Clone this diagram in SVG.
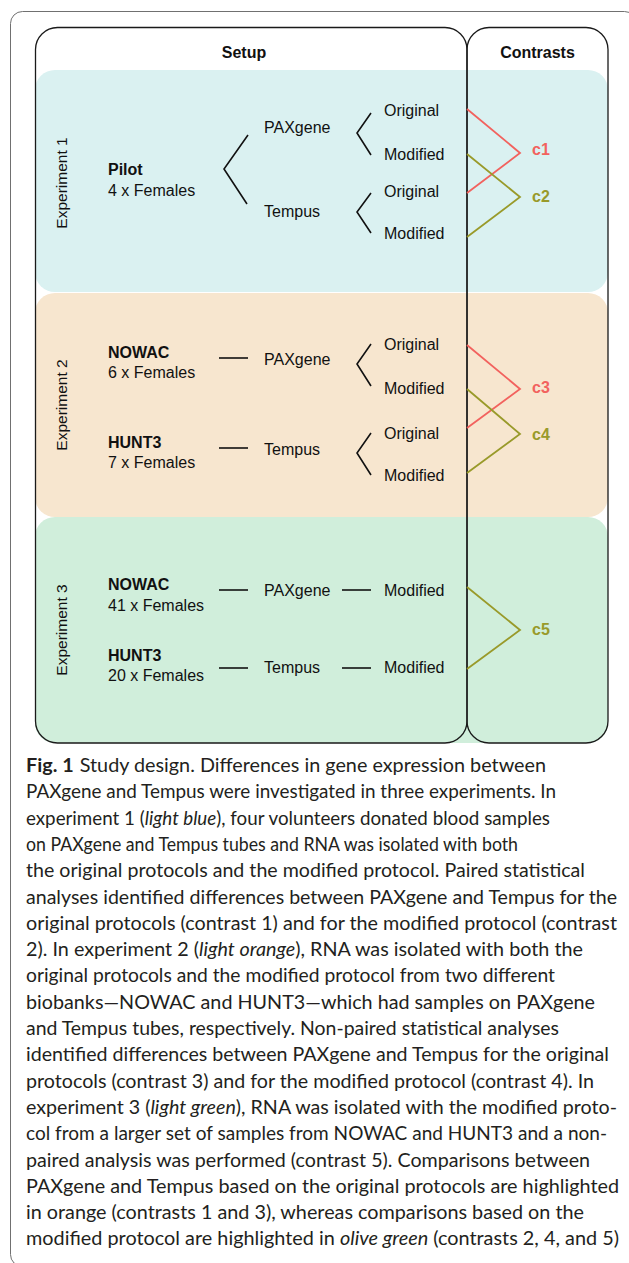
<svg xmlns="http://www.w3.org/2000/svg" width="629" height="1263" viewBox="0 0 629 1263">
<style>
.lbl{font-family:"Liberation Sans",Arial,sans-serif;font-size:16px;fill:#111}
.b{font-weight:bold}
.exp{font-family:"Liberation Sans",Arial,sans-serif;font-size:15.5px;fill:#111;text-anchor:middle}
.hdr{font-family:"Liberation Sans",Arial,sans-serif;font-size:16px;font-weight:bold;fill:#111;text-anchor:middle}
.orig{stroke:#f2625e;stroke-width:1.8;fill:none}
.mod{stroke:#999a2a;stroke-width:1.8;fill:none}
.ct{font-family:"Liberation Sans",Arial,sans-serif;font-size:16px;font-weight:bold}
.ctr{fill:#f2625e}
.cto{fill:#999a2a}
.br{stroke:#111;stroke-width:1.6;fill:none}
.box{fill:none;stroke:#1a1a1a;stroke-width:1.3}
.cap{font-family:Lato,"Open Sans",sans-serif;font-size:19.5px;fill:#231f20}
</style>
<rect x="0" y="0" width="629" height="1263" fill="#fff"/>
<rect id="frame" x="10.5" y="11.5" width="626" height="1255" rx="12" fill="none" stroke="#707070" stroke-width="1"/>

<g id="exp1">
<rect x="35" y="70" width="573" height="222" rx="20" fill="#daf1f1"/>
<text class="exp" transform="translate(67,183) rotate(-90)">Experiment 1</text>
</g>
<g id="exp2">
<rect x="35" y="293" width="573" height="224" rx="20" fill="#f7e6cf"/>
<text class="exp" transform="translate(67,405) rotate(-90)">Experiment 2</text>
</g>
<g id="exp3">
<rect x="35" y="517" width="573" height="226" rx="20" fill="#d0eedb"/>
<text class="exp" transform="translate(67,630) rotate(-90)">Experiment 3</text>
</g>

<g id="setup">
<rect class="box" x="35.5" y="27.5" width="431.5" height="715.5" rx="22"/>
<text class="hdr" x="244" y="58">Setup</text>
</g>
<g id="contrasts">
<rect class="box" x="467" y="27.5" width="141" height="715.5" rx="22"/>
<text class="hdr" x="537.5" y="58">Contrasts</text>
</g>

<g id="nodes-exp1">
<g id="pilot"><text class="lbl b" x="108" y="175">Pilot</text><text class="lbl" x="108" y="196">4 x Females</text></g>
<g id="e1-paxgene"><text class="lbl" x="264" y="133">PAXgene</text></g>
<g id="e1-tempus"><text class="lbl" x="264" y="217">Tempus</text></g>
<g id="e1-pax-orig"><text class="lbl" x="384" y="116">Original</text></g>
<g id="e1-pax-mod"><text class="lbl" x="384" y="160">Modified</text></g>
<g id="e1-tem-orig"><text class="lbl" x="384" y="197">Original</text></g>
<g id="e1-tem-mod"><text class="lbl" x="384" y="239">Modified</text></g>
<g id="c1"><text class="ct ctr" x="532" y="155">c1</text></g>
<g id="c2"><text class="ct cto" x="532" y="202">c2</text></g>
</g>

<g id="nodes-exp2">
<g id="e2-nowac"><text class="lbl b" x="108" y="358">NOWAC</text><text class="lbl" x="108" y="378">6 x Females</text></g>
<g id="e2-hunt3"><text class="lbl b" x="108" y="448">HUNT3</text><text class="lbl" x="108" y="468">7 x Females</text></g>
<g id="e2-paxgene"><text class="lbl" x="264" y="365">PAXgene</text></g>
<g id="e2-tempus"><text class="lbl" x="264" y="455">Tempus</text></g>
<g id="e2-pax-orig"><text class="lbl" x="384" y="350">Original</text></g>
<g id="e2-pax-mod"><text class="lbl" x="384" y="394">Modified</text></g>
<g id="e2-tem-orig"><text class="lbl" x="384" y="439">Original</text></g>
<g id="e2-tem-mod"><text class="lbl" x="384" y="481">Modified</text></g>
<g id="c3"><text class="ct ctr" x="532" y="393">c3</text></g>
<g id="c4"><text class="ct cto" x="532" y="440">c4</text></g>
</g>

<g id="nodes-exp3">
<g id="e3-nowac"><text class="lbl b" x="108" y="590">NOWAC</text><text class="lbl" x="108" y="611">41 x Females</text></g>
<g id="e3-hunt3"><text class="lbl b" x="108" y="661">HUNT3</text><text class="lbl" x="108" y="681">20 x Females</text></g>
<g id="e3-paxgene"><text class="lbl" x="264" y="596">PAXgene</text></g>
<g id="e3-tempus"><text class="lbl" x="264" y="673">Tempus</text></g>
<g id="e3-pax-mod"><text class="lbl" x="384" y="596">Modified</text></g>
<g id="e3-tem-mod"><text class="lbl" x="384" y="673">Modified</text></g>
<g id="c5"><text class="ct cto" x="532" y="635">c5</text></g>
</g>

<g id="connectors">
<polyline class="br" points="248,135 224,169 247,204"/>
<polyline class="br" points="371,113 357,133 371,155"/>
<polyline class="br" points="371,193 357,212 371,233"/>
<polyline class="br" points="371,344 357,364 371,386"/>
<polyline class="br" points="371,433 357,453 371,475"/>
<line class="br" x1="219" y1="358" x2="248" y2="358"/>
<line class="br" x1="219" y1="448" x2="248" y2="448"/>
<line class="br" x1="219" y1="590" x2="248" y2="590"/>
<line class="br" x1="219" y1="668" x2="248" y2="668"/>
<line class="br" x1="342" y1="590" x2="371" y2="590"/>
<line class="br" x1="342" y1="668" x2="371" y2="668"/>
<polyline class="orig" points="467,109 520,153 467,193"/>
<polyline class="mod" points="467,154 520,197 467,237"/>
<polyline class="orig" points="467,345 520,389 467,428"/>
<polyline class="mod" points="467,389 520,434 467,473"/>
<polyline class="mod" points="467,587 520,630 467,669"/>
</g>

<g id="caption" class="cap">
<text x="26" y="772" textLength="520" lengthAdjust="spacingAndGlyphs"><tspan font-weight="bold">Fig. 1</tspan><tspan dx="6">Study design. Differences in gene expression between</tspan></text>
<text x="26" y="798.3" textLength="530" lengthAdjust="spacingAndGlyphs">PAXgene and Tempus were investigated in three experiments. In</text>
<text x="26" y="824.6" textLength="524" lengthAdjust="spacingAndGlyphs">experiment 1 (<tspan font-style="italic">light blue</tspan>), four volunteers donated blood samples</text>
<text x="26" y="850.9" textLength="492" lengthAdjust="spacingAndGlyphs">on PAXgene and Tempus tubes and RNA was isolated with both</text>
<text x="26" y="877.2" textLength="559" lengthAdjust="spacingAndGlyphs">the original protocols and the modified protocol. Paired statistical</text>
<text x="26" y="903.5" textLength="591" lengthAdjust="spacingAndGlyphs">analyses identified differences between PAXgene and Tempus for the</text>
<text x="26" y="929.8" textLength="591" lengthAdjust="spacingAndGlyphs">original protocols (contrast 1) and for the modified protocol (contrast</text>
<text x="26" y="956.1" textLength="557" lengthAdjust="spacingAndGlyphs">2). In experiment 2 (<tspan font-style="italic">light orange</tspan>), RNA was isolated with both the</text>
<text x="26" y="982.4" textLength="529" lengthAdjust="spacingAndGlyphs">original protocols and the modified protocol from two different</text>
<text x="26" y="1008.7" textLength="569" lengthAdjust="spacingAndGlyphs">biobanks—NOWAC and HUNT3—which had samples on PAXgene</text>
<text x="26" y="1035" textLength="533" lengthAdjust="spacingAndGlyphs">and Tempus tubes, respectively. Non-paired statistical analyses</text>
<text x="26" y="1061.3" textLength="583" lengthAdjust="spacingAndGlyphs">identified differences between PAXgene and Tempus for the original</text>
<text x="26" y="1087.6" textLength="568" lengthAdjust="spacingAndGlyphs">protocols (contrast 3) and for the modified protocol (contrast 4). In</text>
<text x="26" y="1113.9" textLength="591" lengthAdjust="spacingAndGlyphs">experiment 3 (<tspan font-style="italic">light green</tspan>), RNA was isolated with the modified proto-</text>
<text x="26" y="1140.2" textLength="581" lengthAdjust="spacingAndGlyphs">col from a larger set of samples from NOWAC and HUNT3 and a non-</text>
<text x="26" y="1166.5" textLength="564" lengthAdjust="spacingAndGlyphs">paired analysis was performed (contrast 5). Comparisons between</text>
<text x="26" y="1192.8" textLength="593" lengthAdjust="spacingAndGlyphs">PAXgene and Tempus based on the original protocols are highlighted</text>
<text x="26" y="1219.1" textLength="558" lengthAdjust="spacingAndGlyphs">in orange (contrasts 1 and 3), whereas comparisons based on the</text>
<text x="26" y="1245.4" textLength="593" lengthAdjust="spacingAndGlyphs">modified protocol are highlighted in <tspan font-style="italic">olive green</tspan> (contrasts 2, 4, and 5)</text>
</g>
</svg>
